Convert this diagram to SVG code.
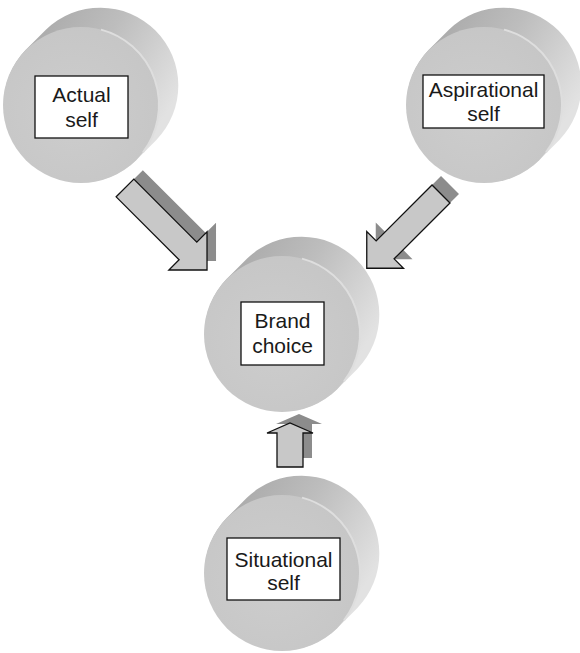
<svg xmlns="http://www.w3.org/2000/svg" xmlns:xlink="http://www.w3.org/1999/xlink" width="580" height="653" viewBox="0 0 580 653">
  <defs>
    <linearGradient id="bodyGrad" x1="0.2" y1="0" x2="1" y2="0.5">
      <stop offset="0" stop-color="#a8a8a8"/>
      <stop offset="0.45" stop-color="#bdbdbd"/>
      <stop offset="1" stop-color="#e2e2e2"/>
    </linearGradient>
    <radialGradient id="faceGrad" cx="0.45" cy="0.55" r="0.6">
      <stop offset="0" stop-color="#cdcdcd"/>
      <stop offset="1" stop-color="#c6c6c6"/>
    </radialGradient>
    <path id="body" d="M55.15,55.15 A78,78 0 0 1 -55.15,-55.15 L-35.15,-75.15 A78,78 0 0 1 75.15,35.15 Z"/>
    <path id="rim" d="M20,-75.4 A78,78 0 0 1 62,47.3"/>
    <polygon id="arrowBig" points="0,-12.5 89,-12.5 89,-27 116,0 89,27 89,12.5 0,12.5"/>
    <polygon id="arrowMid" points="0,-12.7 79,-12.7 79,-26 105,0 79,26 79,12.7 0,12.7"/>
    <polygon id="arrowUp" points="0,-13 34,-13 34,-23 44,0 34,23 34,13 0,13"/>
  </defs>
  <style>
    .body { fill: url(#bodyGrad); }
    .face { fill: url(#faceGrad); }
    .rim { fill: none; stroke: #dedede; stroke-width: 2; }
    .box { fill: #ffffff; stroke: #111111; stroke-width: 1.3; }
    .label { font-family: "Liberation Sans", Arial, sans-serif; font-size: 21px; fill: #1a1a1a; text-anchor: middle; }
    .shadow { fill: #8c8c8c; }
    .arrow { fill: #c8c8c8; stroke: #111111; stroke-width: 1.3; stroke-linejoin: miter; }
  </style>
  <rect width="580" height="653" fill="#ffffff"/>

  <g id="node-actual">
    <use xlink:href="#body" href="#body" class="body" transform="translate(81,105)"/>
    <circle class="face" cx="81" cy="105" r="78"/>
    <use xlink:href="#rim" href="#rim" class="rim" transform="translate(81,105)"/>
    <rect class="box" x="35" y="76" width="93" height="62"/>
    <text class="label" x="81.5" y="102">Actual</text>
    <text class="label" x="81.5" y="127">self</text>
  </g>

  <g id="node-aspirational">
    <use xlink:href="#body" href="#body" class="body" transform="translate(484,105)"/>
    <circle class="face" cx="484" cy="105" r="78"/>
    <use xlink:href="#rim" href="#rim" class="rim" transform="translate(484,105)"/>
    <rect class="box" x="423" y="75" width="121" height="53"/>
    <text class="label" x="483.5" y="97">Aspirational</text>
    <text class="label" x="483.5" y="121">self</text>
  </g>

  <g id="node-brand">
    <use xlink:href="#body" href="#body" class="body" transform="translate(282,334)"/>
    <circle class="face" cx="282" cy="334" r="78"/>
    <use xlink:href="#rim" href="#rim" class="rim" transform="translate(282,334)"/>
    <rect class="box" x="241" y="302" width="83" height="63"/>
    <text class="label" x="282.5" y="328">Brand</text>
    <text class="label" x="282.5" y="353">choice</text>
  </g>

  <g id="node-situational">
    <use xlink:href="#body" href="#body" class="body" transform="translate(282,573)"/>
    <circle class="face" cx="282" cy="573" r="78"/>
    <use xlink:href="#rim" href="#rim" class="rim" transform="translate(282,573)"/>
    <rect class="box" x="227" y="538" width="113" height="62"/>
    <text class="label" x="283.5" y="567">Situational</text>
    <text class="label" x="283.5" y="590">self</text>
  </g>

  <g id="connectors">
    <g id="arrow-actual-brand">
      <use xlink:href="#arrowBig" href="#arrowBig" class="shadow" transform="translate(134,179) rotate(45)"/>
      <use xlink:href="#arrowBig" href="#arrowBig" class="arrow" transform="translate(125,188) rotate(45)"/>
    </g>
    <g id="arrow-aspirational-brand">
      <use xlink:href="#arrowMid" href="#arrowMid" class="shadow" transform="translate(450,185) rotate(135)"/>
      <use xlink:href="#arrowMid" href="#arrowMid" class="arrow" transform="translate(441,194) rotate(135)"/>
    </g>
    <g id="arrow-situational-brand">
      <use xlink:href="#arrowUp" href="#arrowUp" class="shadow" transform="translate(299,458) rotate(-90)"/>
      <use xlink:href="#arrowUp" href="#arrowUp" class="arrow" transform="translate(290,467) rotate(-90)"/>
    </g>
  </g>
</svg>
